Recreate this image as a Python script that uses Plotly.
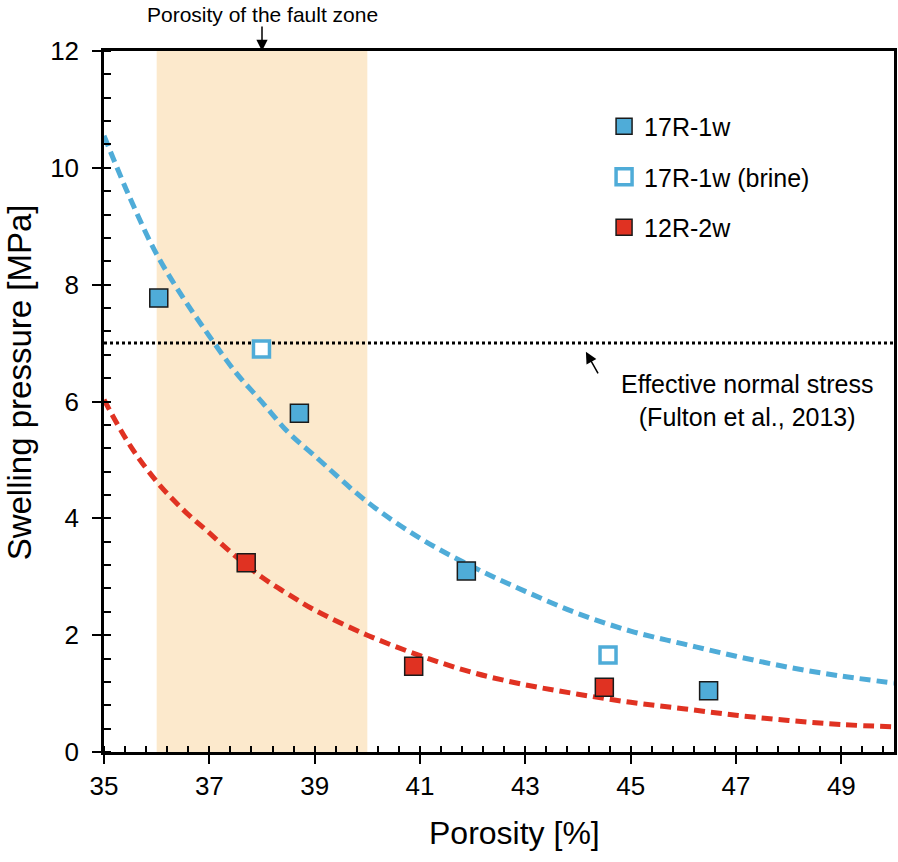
import plotly.graph_objects as go

# ---- data ----
s17_x = [36.04, 38.71, 41.88, 46.48]
s17_y = [7.77, 5.80, 3.10, 1.05]

brine_x = [37.99, 44.57]
brine_y = [6.90, 1.66]

s12_x = [37.70, 40.88, 44.50]
s12_y = [3.24, 1.47, 1.11]

fit17_x = [35, 35.5, 36, 36.5, 37, 37.5, 38, 38.5, 39, 40, 41, 42, 43, 44, 45, 46, 47, 48, 49, 50]
fit17_y = [10.55, 9.47, 8.52, 7.78, 7.12, 6.50, 5.99, 5.47, 5.07, 4.28, 3.66, 3.17, 2.75, 2.37, 2.07, 1.85, 1.64, 1.45, 1.30, 1.18]

fit12_x = [35, 35.5, 36, 36.5, 37, 37.5, 38, 38.5, 39, 40, 41, 42, 43, 44, 45, 46, 47, 48, 49, 50]
fit12_y = [6.03, 5.24, 4.63, 4.15, 3.75, 3.35, 2.99, 2.70, 2.43, 2.00, 1.65, 1.36, 1.15, 0.99, 0.85, 0.74, 0.63, 0.54, 0.47, 0.43]

fault_zone = [36, 40]
stress_level = 7
x_range = [35, 50]
y_range = [0, 12]

BLUE = "#4FACD8"
RED = "#E03222"
FONT = "Liberation Sans, Arial, sans-serif"

fig = go.Figure()

# fault-zone band
fig.add_shape(type="rect", xref="x", yref="y", x0=fault_zone[0], x1=fault_zone[1],
              y0=y_range[0], y1=y_range[1], fillcolor="#FCE9CC", line_width=0, layer="below")

# effective normal stress line
fig.add_trace(go.Scatter(x=x_range, y=[stress_level, stress_level], mode="lines",
                         line=dict(color="black", width=3, dash="3px,3px"),
                         showlegend=False, hoverinfo="skip"))

# fitted curves
fig.add_trace(go.Scatter(x=fit17_x, y=fit17_y, mode="lines", line_shape="spline",
                         line=dict(color=BLUE, width=5, dash="11px,6px"),
                         showlegend=False, hoverinfo="skip"))
fig.add_trace(go.Scatter(x=fit12_x, y=fit12_y, mode="lines", line_shape="spline",
                         line=dict(color=RED, width=5, dash="11px,6px"),
                         showlegend=False, hoverinfo="skip"))

# data points
fig.add_trace(go.Scatter(x=s17_x, y=s17_y, mode="markers", name="17R-1w", legendgroup="a",
                         marker=dict(symbol="square", size=18, color=BLUE,
                                     line=dict(color="#1a1a1a", width=1.5))))
fig.add_trace(go.Scatter(x=brine_x, y=brine_y, mode="markers", name="17R-1w (brine)", legendgroup="b",
                         marker=dict(symbol="square", size=16, color="white",
                                     line=dict(color=BLUE, width=3.5))))
fig.add_trace(go.Scatter(x=s12_x, y=s12_y, mode="markers", name="12R-2w", legendgroup="c",
                         marker=dict(symbol="square", size=18, color=RED,
                                     line=dict(color="#1a1a1a", width=1.5))))

# overlay trace for inner half of major ticks
fig.add_trace(go.Scatter(x=[x_range[0]], y=[y_range[0]], xaxis="x2", yaxis="y2",
                         mode="markers", marker=dict(opacity=0), showlegend=False, hoverinfo="skip"))

axis_common = dict(showgrid=False, zeroline=False, showline=True, linecolor="black",
                   linewidth=2.5, mirror=True, ticks="outside", ticklen=9, tickwidth=2,
                   tickcolor="black", tickfont=dict(size=26, color="black", family=FONT))

fig.update_layout(
    width=898, height=862, autosize=False,
    margin=dict(l=104, r=1, t=51, b=110),
    plot_bgcolor="white", paper_bgcolor="white",
    font=dict(family=FONT, color="black"),
    xaxis=dict(range=x_range, tick0=35, dtick=2, **axis_common,
               minor=dict(ticks="inside", ticklen=6, tickwidth=1.5, dtick=0.4, tick0=35, tickcolor="black")),
    yaxis=dict(range=y_range, tick0=0, dtick=2, **axis_common, ticklabelstandoff=8,
               minor=dict(ticks="inside", ticklen=7, tickwidth=1.5, dtick=0.4, tick0=0, tickcolor="black")),
    xaxis2=dict(range=x_range, overlaying="x", anchor="y", side="bottom", tick0=35, dtick=2,
                ticks="inside", ticklen=6, tickwidth=2, tickcolor="black", showticklabels=False,
                showline=False, showgrid=False, zeroline=False),
    yaxis2=dict(range=y_range, overlaying="y", anchor="x", side="left", tick0=0, dtick=2,
                ticks="inside", ticklen=7, tickwidth=2, tickcolor="black", showticklabels=False,
                showline=False, showgrid=False, zeroline=False),
    legend=dict(x=0.633, y=0.925, xanchor="left", yanchor="top", bgcolor="rgba(0,0,0,0)",
                font=dict(size=25, family=FONT), tracegroupgap=15, itemwidth=30),
    showlegend=True,
)

# axis titles
fig.add_annotation(text="Porosity [%]", xref="paper", yref="paper", x=0.52, y=-0.1155,
                   xanchor="center", yanchor="middle", showarrow=False,
                   font=dict(size=32, family=FONT))
fig.add_annotation(text="Swelling pressure [MPa]", xref="paper", yref="paper", x=-0.107, y=0.528,
                   xanchor="center", yanchor="middle", textangle=-90, showarrow=False,
                   font=dict(size=33, family=FONT))

# annotations
fig.add_annotation(text="Porosity of the fault zone", xref="x", yref="paper", x=38.0, y=1.0,
                   yshift=37, yanchor="middle", showarrow=False, font=dict(size=21, family=FONT))
fig.add_annotation(text="", xref="x", yref="y", x=38.0, y=12, ax=0, ay=-26,
                   showarrow=True, arrowhead=2, arrowsize=1.5, arrowwidth=1.5, arrowcolor="black")
fig.add_annotation(text="", xref="x", yref="y", x=44.15, y=6.85, ax=13, ay=23,
                   showarrow=True, arrowhead=2, arrowsize=1.5, arrowwidth=1.5, arrowcolor="black")
fig.add_annotation(text="Effective normal stress<br>(Fulton et al., 2013)", xref="x", yref="y",
                   x=47.2, y=6.02, showarrow=False, align="center",
                   font=dict(size=25, family=FONT))

post = ("document.body.style.margin='0';document.body.style.overflow='hidden';"
        "var gd=document.getElementById('{plot_id}');"
        "Plotly.relayout(gd,{width:898,height:862});")
fig.write_html("out.html", post_script=post,
               config={"responsive": False, "displayModeBar": False})
